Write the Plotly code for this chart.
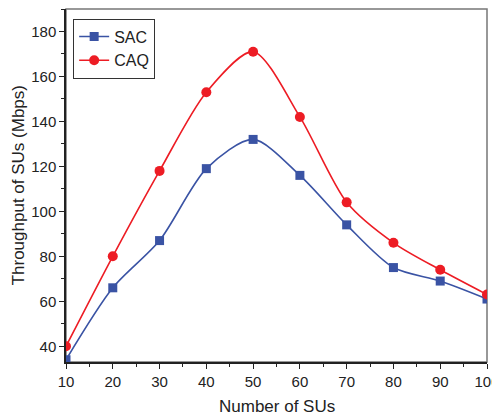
import plotly.graph_objects as go

num_sus = [10, 20, 30, 40, 50, 60, 70, 80, 90, 100]
sac = [34, 66, 87, 119, 132, 116, 94, 75, 69, 61]
caq = [40, 80, 118, 153, 171, 142, 104, 86, 74, 63]
y_ticks = [40, 60, 80, 100, 120, 140, 160, 180]

blue = "#3a53a4"
red = "#ed1c24"

fig = go.Figure()
fig.add_trace(go.Scatter(x=num_sus, y=sac, name="SAC", mode="lines+markers",
                         line=dict(color=blue, width=1.6, shape="spline", smoothing=0.8),
                         marker=dict(symbol="square", size=9, color=blue)))
fig.add_trace(go.Scatter(x=num_sus, y=caq, name="CAQ", mode="lines+markers",
                         line=dict(color=red, width=1.6, shape="spline", smoothing=0.8),
                         marker=dict(symbol="circle", size=10, color=red)))

font = "Liberation Sans, Arial, sans-serif"
fig.update_layout(
    width=492, height=410,
    margin=dict(l=58, r=13, t=1, b=56, autoexpand=False),
    paper_bgcolor="white", plot_bgcolor="white",
    font=dict(family=font, color="#222222", size=15),
    showlegend=True,
    legend=dict(x=0.017, y=0.973, xanchor="left", yanchor="top",
                bordercolor="#333333", borderwidth=1, bgcolor="white",
                font=dict(size=16, family=font), tracegroupgap=0,
                entrywidth=57, entrywidthmode="pixels"),
    shapes=[dict(type="rect", xref="paper", yref="paper", x0=0, x1=1, y0=0, y1=1,
                 line=dict(color="#777777", width=1.5), layer="below")],
    annotations=[
        dict(text="Number of SUs", xref="paper", yref="paper", x=0.5, y=-0.125,
             xanchor="center", yanchor="middle", showarrow=False, font=dict(size=17)),
        dict(text="Throughput of SUs (Mbps)", xref="paper", yref="paper", x=-0.112, y=0.5,
             xanchor="center", yanchor="middle", showarrow=False, textangle=-90,
             font=dict(size=17)),
    ],
)
fig.update_xaxes(range=[10, 100], tickmode="array", tickvals=num_sus, automargin=False,
                 showline=True, linecolor="#222222", linewidth=1.5,
                 ticks="outside", ticklen=5, tickwidth=1, tickcolor="#222222",
                 minor=dict(ticks="outside", dtick=5, tick0=0, ticklen=3, tickcolor="#222222"),
                 showgrid=False, zeroline=False, tickfont=dict(size=15))
fig.update_yaxes(range=[33, 190], tickmode="array", tickvals=y_ticks, automargin=False,
                 showline=True, linecolor="#222222", linewidth=1.5,
                 ticks="outside", ticklen=5, tickwidth=1, tickcolor="#222222",
                 minor=dict(ticks="outside", dtick=10, tick0=0, ticklen=3, tickcolor="#222222"),
                 showgrid=False, zeroline=False, tickfont=dict(size=15))

fig.write_html("out.html")
